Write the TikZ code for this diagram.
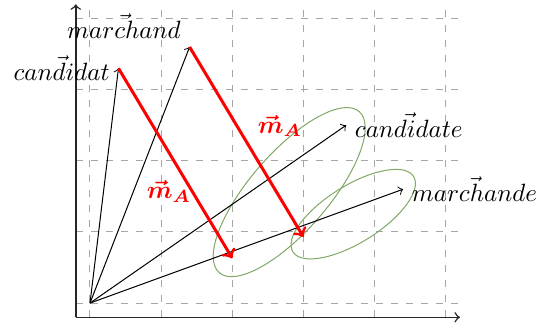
\documentclass[tikz,border=0pt]{standalone}
\usepackage{amsmath,bm}
\definecolor{ellgreen}{RGB}{128,168,100}
\begin{document}
\begin{tikzpicture}[
  gridline/.style={gray!70,dashed},
  axisline/.style={->,semithick,black!85},
  vecline/.style={->,black},
  shiftvec/.style={->,very thick,red},
  cluster/.style={ellgreen,thin},
  word/.style={font=\normalsize},
  shiftlabel/.style={red,font=\normalsize}
]
\useasboundingbox (-1.265,-0.295) rectangle (6.325,4.26);
\draw[gridline] (-0.2,-0.2) grid (5.2,4.2);
\coordinate (ax0) at (-0.2,-0.2);
\coordinate (axx) at (5.2,-0.2);
\coordinate (axy) at (-0.2,4.2);
\draw[axisline] (ax0) -- (axx);
\draw[axisline] (ax0) -- (axy);

\coordinate (O) at (0,0);
\coordinate (cdt) at (0.4,3.3);
\coordinate (mch) at (1.4,3.6);
\coordinate (cde) at (3.6,2.5);
\coordinate (mce) at (4.4,1.6);
\coordinate (e1) at (2.0,0.63);
\coordinate (e2) at (3.0,0.93);

\draw[cluster] (2.8,1.56) ellipse[x radius=1.5,y radius=0.55,rotate=49];
\draw[cluster] (3.7,1.25) ellipse[x radius=1.0,y radius=0.4,rotate=32];

\draw[vecline] (O) -- (cdt);
\draw[vecline] (O) -- (mch);
\draw[vecline] (O) -- (cde);
\draw[vecline] (O) -- (mce);

\node[word,left] (lcdt) at (cdt) {$\vec{candidat}$};
\node[word,above left] (lmch) at (mch) {$\vec{marchand}$};
\node[word,right] (lcde) at (cde) {$\vec{candidate}$};
\node[word,right] (lmce) at (mce) {$\vec{marchande}$};

\draw[shiftvec] (cdt) -- (e1);
\draw[shiftvec] (mch) -- (e2);

\node[shiftlabel] (ma1) at (1.11,1.57) {$\bm{\vec{m}_A}$};
\node[shiftlabel] (ma2) at (2.67,2.49) {$\bm{\vec{m}_A}$};
\end{tikzpicture}
\end{document}
